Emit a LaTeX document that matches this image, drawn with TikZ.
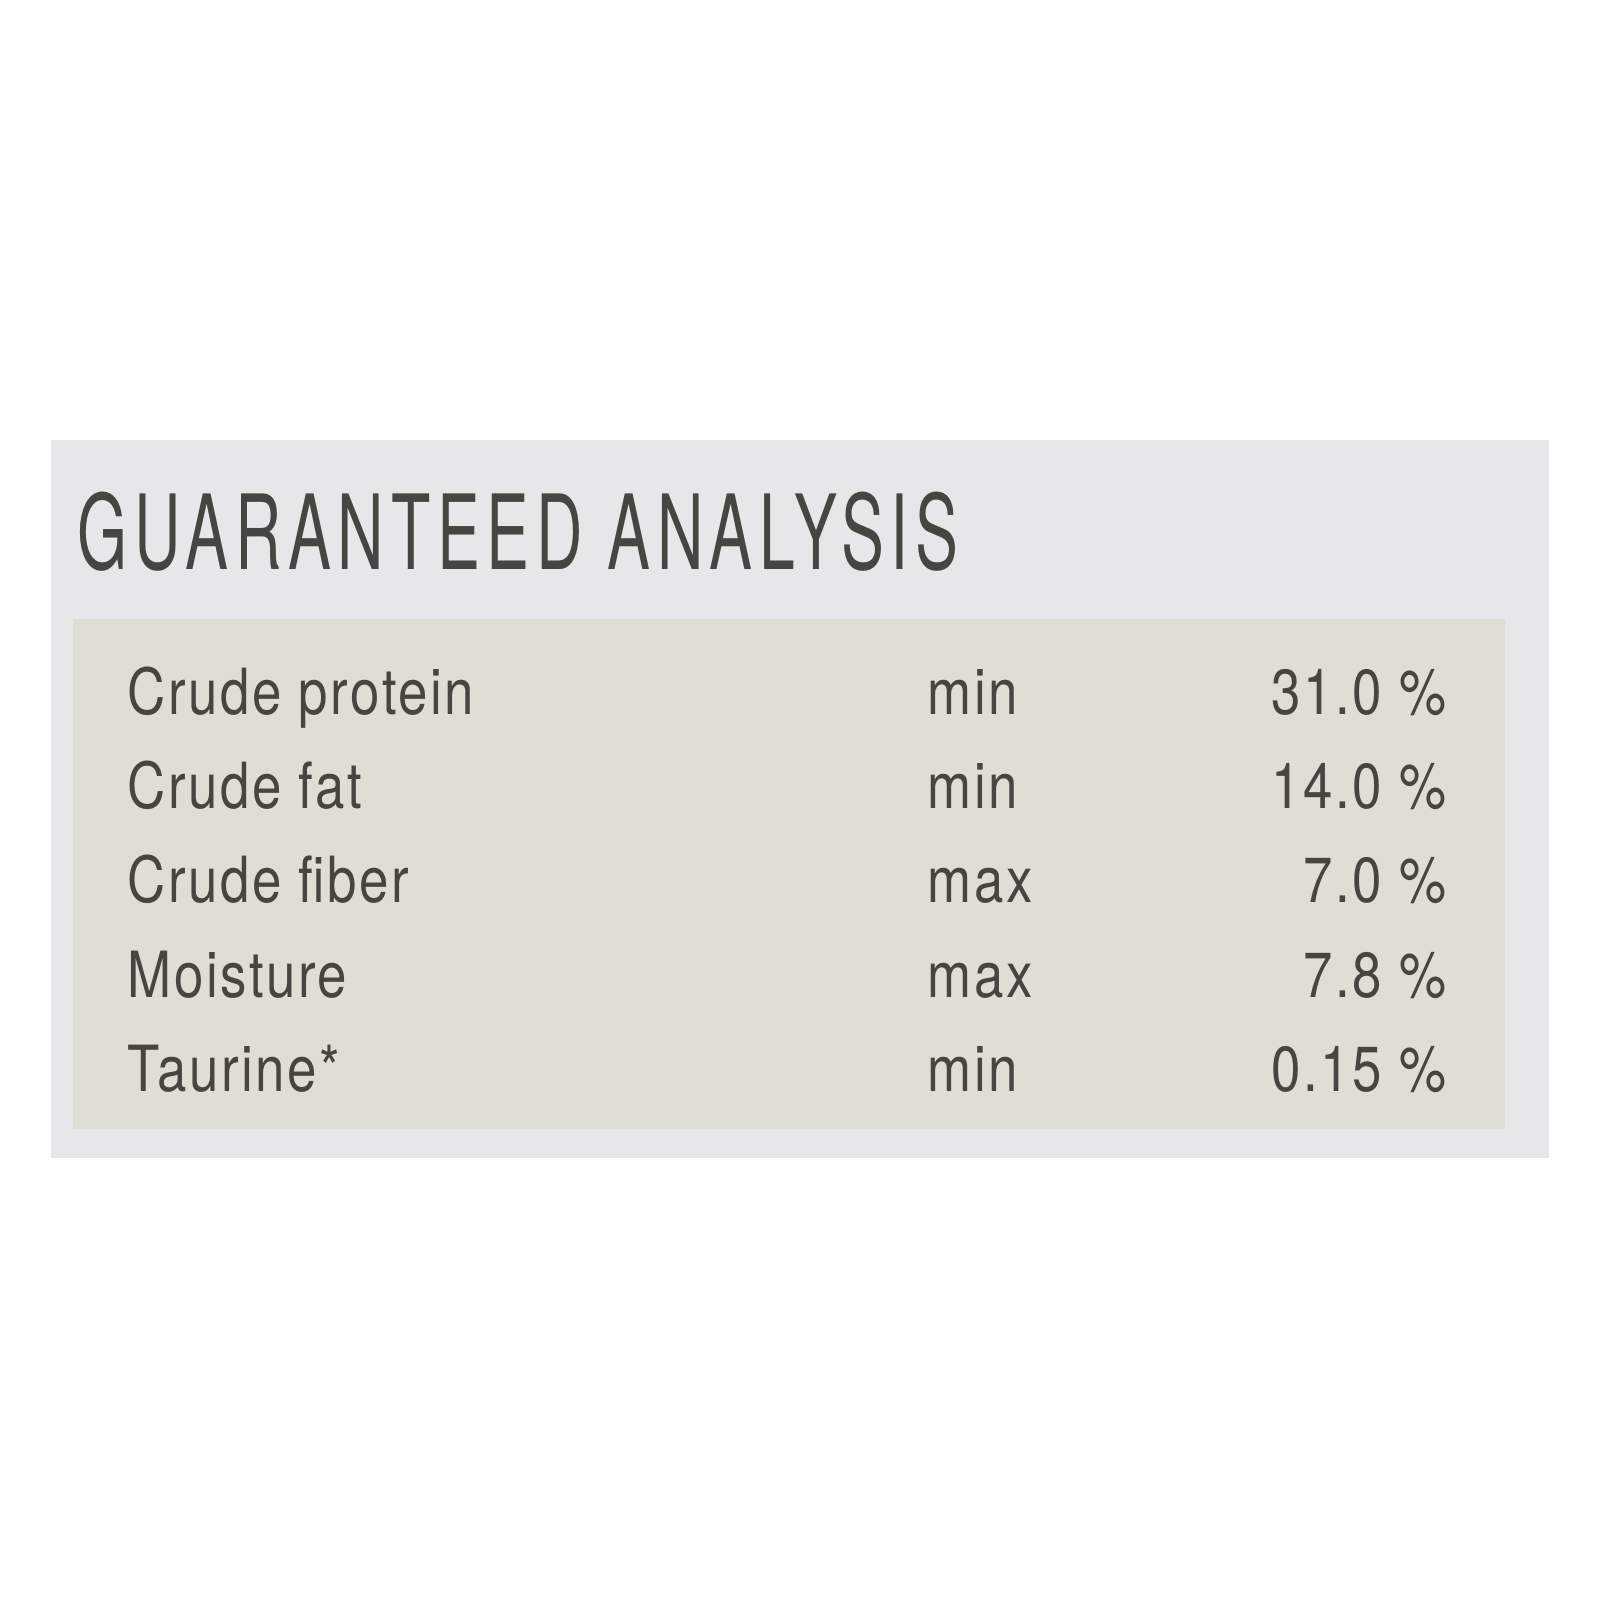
\documentclass[tikz,border=0pt]{standalone}
\usepackage{fontspec}
\setmainfont{TeX Gyre Heros}[FakeStretch=0.83,LetterSpace=4]
\newfontfamily\headfont{TeX Gyre Heros}[FakeStretch=0.62,LetterSpace=6.5]

\definecolor{cardgray}{HTML}{E7E7E9}
\definecolor{tablebeige}{HTML}{DFDED4}
\definecolor{inkgray}{HTML}{474541}

\begin{document}
\begin{tikzpicture}[x=0.01cm,y=-0.01cm,
  rowtext/.style={inner sep=0pt,text=inkgray,font=\fontsize{18.1}{20}\selectfont}]
\useasboundingbox (0,0) rectangle (1600,1600);
\fill[white] (0,0) rectangle (1600,1600);

\fill[cardgray] (51,440) rectangle (1549,1158);
\fill[tablebeige] (73,619) rectangle (1505,1129);

\node[anchor=base west,inner sep=0pt,text=inkgray,font=\headfont\fontsize{29.5}{32}\selectfont] (title) at (77,569) {GUARANTEED ANALYSIS};

% rows of the table
\foreach \i/\lab/\lim/\val in {0/Crude protein/min/31.0,1/Crude fat/min/14.0,2/Crude fiber/max/7.0,3/Moisture/max/7.8,4/Taurine*/min/0.15}{
  \node[rowtext,anchor=base west] (lab\i) at (127,714+94.4*\i) {\lab};
  \node[rowtext,anchor=base west] (lim\i) at (927,714+94.4*\i) {\lim};
  \node[rowtext,anchor=base east] (val\i) at (1447,714+94.4*\i) {\val~\%};
}
\end{tikzpicture}
\end{document}
